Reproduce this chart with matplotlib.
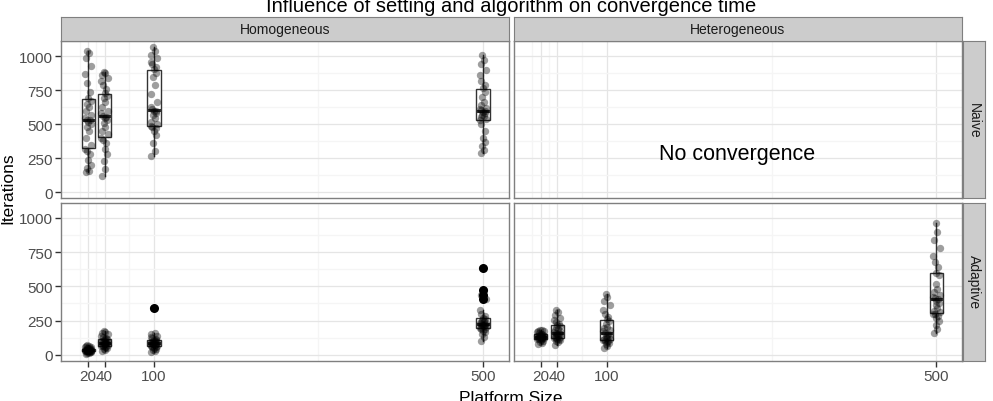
import matplotlib.pyplot as plt

plt.rcParams['font.family'] = ['Liberation Sans', 'DejaVu Sans']

# Platform sizes (x axis)
sizes = [20, 40, 100, 500]

# Iterations until convergence, one value per run
hom_naive_20 = [146, 155, 175, 200, 240, 280, 300, 320, 345, 400, 450, 480, 505, 520, 528,
                532, 545, 570, 600, 630, 650, 668, 690, 740, 800, 870, 930, 990, 1025, 1039]
hom_naive_40 = [119, 170, 230, 280, 320, 360, 385, 400, 425, 450, 480, 510, 530, 548, 555,
                560, 580, 600, 630, 660, 690, 710, 730, 760, 790, 820, 840, 860, 875, 885]
hom_naive_100 = [265, 300, 360, 420, 450, 470, 480, 485, 500, 520, 545, 570, 585, 595, 600,
                 612, 625, 660, 720, 790, 850, 880, 905, 920, 940, 960, 990, 1010, 1040, 1068]
hom_naive_500 = [292, 310, 340, 370, 400, 450, 500, 530, 540, 550, 560, 570, 580, 590, 595,
                 603, 610, 620, 640, 660, 700, 740, 765, 790, 820, 860, 900, 940, 970, 1007]

hom_adapt_20 = [8, 12, 15, 18, 20, 22, 24, 25, 26, 28, 29, 30, 31, 32, 33,
                34, 35, 36, 38, 40, 42, 44, 46, 48, 50, 54, 58, 62, 66, 70]
hom_adapt_40 = [25, 35, 42, 50, 55, 60, 63, 66, 70, 74, 78, 81, 84, 86, 88,
                90, 93, 96, 100, 104, 108, 112, 118, 124, 130, 140, 150, 160, 168, 175]
hom_adapt_100 = [20, 30, 38, 45, 50, 54, 58, 62, 66, 70, 73, 76, 78, 80, 82,
                 84, 86, 90, 94, 98, 102, 106, 110, 115, 122, 130, 140, 155, 160, 345]
hom_adapt_500 = [100, 130, 150, 165, 175, 185, 190, 195, 200, 205, 210, 214, 218, 220, 222,
                 226, 230, 235, 240, 248, 255, 262, 270, 280, 300, 330, 410, 440, 470, 633]

het_adapt_20 = [75, 85, 95, 102, 108, 112, 115, 118, 120, 122, 124, 126, 128, 130, 131,
                132, 134, 136, 138, 140, 143, 146, 150, 155, 160, 165, 170, 175, 178, 180]
het_adapt_40 = [74, 90, 100, 108, 114, 118, 120, 122, 126, 132, 138, 144, 150, 155, 157,
                160, 165, 172, 180, 190, 200, 212, 220, 228, 240, 255, 270, 290, 310, 326]
het_adapt_100 = [50, 65, 75, 85, 92, 98, 104, 108, 112, 118, 124, 130, 138, 146, 154,
                 162, 170, 180, 192, 205, 225, 245, 258, 275, 300, 330, 360, 390, 420, 446]
het_adapt_500 = [158, 190, 220, 250, 270, 285, 295, 300, 310, 320, 340, 360, 380, 395, 405,
                 415, 425, 440, 460, 480, 520, 580, 600, 640, 680, 720, 780, 840, 900, 962]

settings = ["Homogeneous", "Heterogeneous"]
algorithms = ["Naive", "Adaptive"]
panels = {
    ("Homogeneous", "Naive"): [hom_naive_20, hom_naive_40, hom_naive_100, hom_naive_500],
    ("Homogeneous", "Adaptive"): [hom_adapt_20, hom_adapt_40, hom_adapt_100, hom_adapt_500],
    ("Heterogeneous", "Naive"): None,
    ("Heterogeneous", "Adaptive"): [het_adapt_20, het_adapt_40, het_adapt_100, het_adapt_500],
}

# small fixed horizontal spread of the dots (style only, like a light jitter)
spread = [-3, 1, -1, 3, 0, 2, -2, -4, 4]

W, H = 993, 402
fig = plt.figure(figsize=(W / 100, H / 100), dpi=100)


def px_axes(x0, y0, x1, y1):
    # axes from pixel box (top-left origin)
    return fig.add_axes([x0 / W, 1 - y1 / H, (x1 - x0) / W, (y1 - y0) / H])


col_px = [(61, 508.5), (513.5, 962)]
row_px = [(42, 199), (203.5, 361.5)]
border = '#7F7F7F'

for j, setting in enumerate(settings):
    for i, algo in enumerate(algorithms):
        ax = px_axes(col_px[j][0], row_px[i][0], col_px[j][1], row_px[i][1])
        ax.set_xlim(-13, 531)
        ax.set_ylim(-42, 1112)

        # grille façon theme_bw
        ax.set_xticks(sizes)
        ax.set_xticks([10, 30, 70, 300], minor=True)
        ax.set_yticks([0, 250, 500, 750, 1000])
        ax.set_yticks([125, 375, 625, 875], minor=True)
        ax.grid(which='major', color='#E5E5E5', lw=0.9)
        ax.grid(which='minor', color='#F5F5F5', lw=1.0)
        ax.set_axisbelow(True)
        for s in ax.spines.values():
            s.set_color(border)
            s.set_linewidth(1)

        ax.tick_params(which='minor', length=0)
        ax.tick_params(which='major', length=4, width=1, color='#333333',
                       labelsize=11, labelcolor='#4D4D4D', pad=2)
        if j != 0:
            ax.tick_params(axis='y', length=0, labelleft=False)
        if i != 1:
            ax.tick_params(axis='x', length=0, labelbottom=False)

        data = panels[(setting, algo)]
        if data is None:
            ax.text(258, 285, "No convergence", fontsize=15.5, ha='center', va='center',
                    color='black')
            continue

        ax.boxplot(data, positions=sizes, widths=16, patch_artist=True, manage_ticks=False,
                   boxprops=dict(facecolor='white', edgecolor='#333333', lw=1),
                   whiskerprops=dict(color='#333333', lw=1),
                   capprops=dict(lw=0),
                   medianprops=dict(color='#333333', lw=2.2),
                   flierprops=dict(marker='o', markerfacecolor='black',
                                   markeredgecolor='none', markersize=6.5))
        for x, vals in zip(sizes, data):
            xs = [x + spread[k % len(spread)] for k in range(len(vals))]
            ax.scatter(xs, vals, s=28, color='black', alpha=0.38,
                       linewidths=0, zorder=5)

# bandeaux (strips)
for j, setting in enumerate(settings):
    sa = px_axes(col_px[j][0], 18, col_px[j][1], 42)
    sa.set_facecolor('#CCCCCC')
    sa.set_xticks([])
    sa.set_yticks([])
    for s in sa.spines.values():
        s.set_color(border)
    sa.text(0.5, 0.5, setting, transform=sa.transAxes, ha='center', va='center',
            fontsize=10, color='#1A1A1A')

for i, algo in enumerate(algorithms):
    sa = px_axes(962.5, row_px[i][0], 985, row_px[i][1])
    sa.set_facecolor('#CCCCCC')
    sa.set_xticks([])
    sa.set_yticks([])
    for s in sa.spines.values():
        s.set_color(border)
    sa.text(0.5, 0.5, algo, transform=sa.transAxes, ha='center', va='center',
            fontsize=10, color='#1A1A1A', rotation=-90)

# titluri
fig.text(511 / W, 1 - 6 / H, "Influence of setting and algorithm on convergence time",
         ha='center', va='center', fontsize=14.5)
fig.text(511 / W, 1 - 399 / H, "Platform Size", ha='center', va='center', fontsize=12.5)
fig.text(8 / W, 1 - 188 / H, "Iterations", ha='center', va='center', fontsize=12.5,
         rotation=90)

plt.savefig("out.png", dpi=100)
